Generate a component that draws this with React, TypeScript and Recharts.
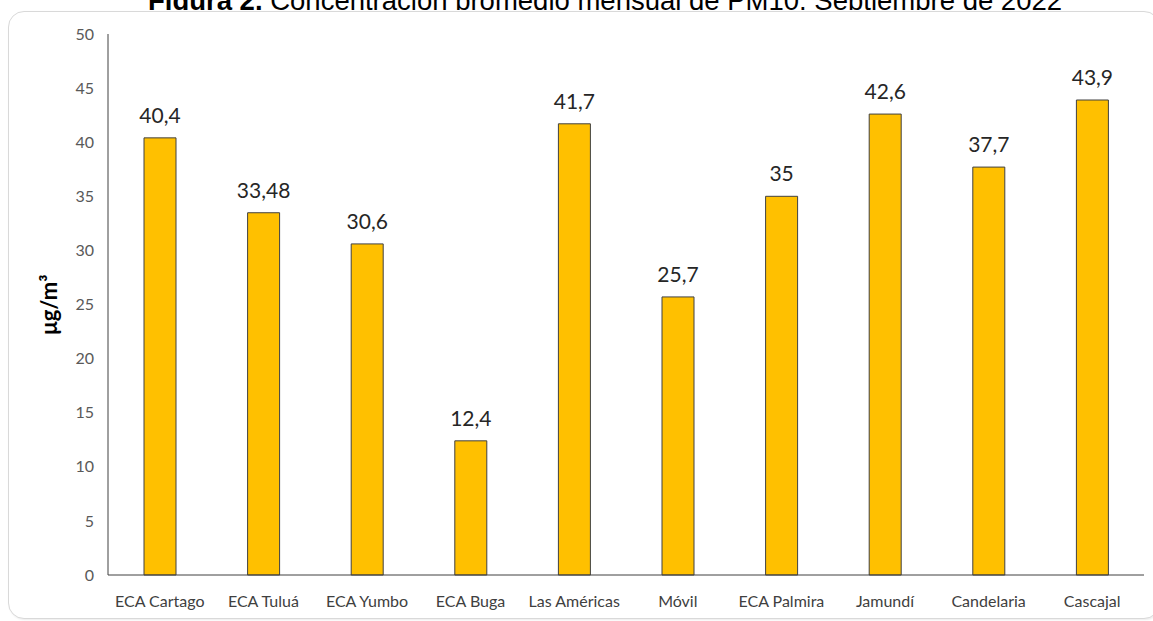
import React from 'react';
import { BarChart, Bar, XAxis, YAxis, LabelList } from 'recharts';

const stations = ['ECA Cartago', 'ECA Tuluá', 'ECA Yumbo', 'ECA Buga', 'Las Américas', 'Móvil', 'ECA Palmira', 'Jamundí', 'Candelaria', 'Cascajal'];
const pm10 = [40.4, 33.48, 30.6, 12.4, 41.7, 25.7, 35, 42.6, 37.7, 43.9];
const yTicks = [0, 5, 10, 15, 20, 25, 30, 35, 40, 45, 50];

const data = stations.map((s, i) => ({ name: s, value: pm10[i] }));

const fmt = (v: any) => String(v).replace('.', ',');

export default function App() {
  return (
    <div style={{ position: 'absolute', left: 0, top: 0, width: 1153, height: 621, background: '#fff', overflow: 'hidden' }}>
      <svg width={1153} height={40} style={{ position: 'absolute', left: 0, top: 0 }}>
        <text x={605} y={10} textAnchor="middle" fontFamily="'Liberation Sans', Arial, sans-serif" fontSize={27.5} fill="#000">
          <tspan fontWeight="bold">Figura 2.</tspan>
          <tspan> Concentración promedio mensual de PM10. Septiembre de 2022</tspan>
        </text>
      </svg>
      <div style={{ position: 'absolute', left: 0, top: 10, width: 1153, height: 4, background: '#fff' }} />
      <div style={{ position: 'absolute', left: 8, top: 11, width: 1150, height: 606, border: '1.5px solid #d9d9d9', borderRadius: 16, background: '#fff', boxShadow: '1px 1px 2px rgba(0,0,0,0.08)' }} />
      <div style={{ position: 'absolute', left: 0, top: 0 }}>
        <BarChart width={1153} height={621} data={data} margin={{ top: 34, right: 9, bottom: 16, left: 0 }} barCategoryGap={0}>
          <XAxis
            dataKey="name"
            height={30}
            interval={0}
            axisLine={{ stroke: '#404040', strokeWidth: 1 }}
            tickLine={false}
            tickSize={6}
            tickMargin={15}
            tick={{ fill: '#404040', fontSize: 16, fontFamily: 'Lato, sans-serif' }}
          />
          <YAxis
            width={108}
            domain={[0, 50]}
            ticks={yTicks}
            interval={0}
            axisLine={{ stroke: '#404040', strokeWidth: 1 }}
            tickLine={false}
            tickSize={6}
            tickMargin={8}
            tick={{ fill: '#595959', fontSize: 16, fontFamily: 'Lato, sans-serif' }}
            label={{ value: 'μg/m³', angle: -90, position: 'insideLeft', dx: 44, style: { fontSize: 22, fontWeight: 'bold', fill: '#000', fontFamily: 'Lato, sans-serif', textAnchor: 'middle' } }}
          />
          <Bar dataKey="value" fill="#FFC000" stroke="#404040" strokeWidth={1} barSize={32} isAnimationActive={false}>
            <LabelList dataKey="value" position="top" offset={15} formatter={fmt} style={{ fill: '#262626', fontSize: 21, fontFamily: 'Lato, sans-serif' }} />
          </Bar>
        </BarChart>
      </div>
    </div>
  );
}
